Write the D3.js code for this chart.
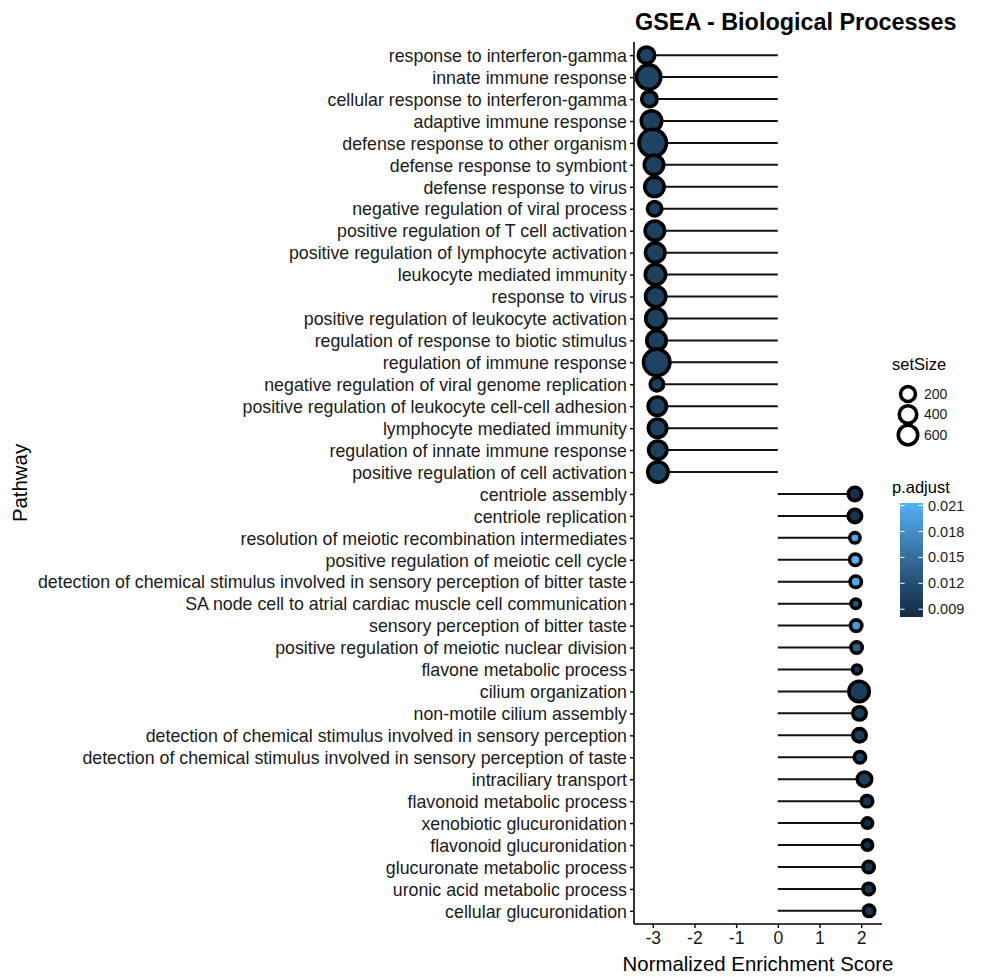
<!DOCTYPE html>
<html>
<head>
<meta charset="utf-8">
<script src="https://cdn.jsdelivr.net/npm/d3@7"></script>
<style>
  html, body { margin: 0; padding: 0; background: #ffffff; }
  svg { display: block; font-family: "Liberation Sans", Arial, Helvetica, sans-serif; }
</style>
</head>
<body>
<svg id="chart" width="982" height="977"></svg>
<script>
// ---------------- DATA ----------------
const categories = [
  "response to interferon-gamma",
  "innate immune response",
  "cellular response to interferon-gamma",
  "adaptive immune response",
  "defense response to other organism",
  "defense response to symbiont",
  "defense response to virus",
  "negative regulation of viral process",
  "positive regulation of T cell activation",
  "positive regulation of lymphocyte activation",
  "leukocyte mediated immunity",
  "response to virus",
  "positive regulation of leukocyte activation",
  "regulation of response to biotic stimulus",
  "regulation of immune response",
  "negative regulation of viral genome replication",
  "positive regulation of leukocyte cell-cell adhesion",
  "lymphocyte mediated immunity",
  "regulation of innate immune response",
  "positive regulation of cell activation",
  "centriole assembly",
  "centriole replication",
  "resolution of meiotic recombination intermediates",
  "positive regulation of meiotic cell cycle",
  "detection of chemical stimulus involved in sensory perception of bitter taste",
  "SA node cell to atrial cardiac muscle cell communication",
  "sensory perception of bitter taste",
  "positive regulation of meiotic nuclear division",
  "flavone metabolic process",
  "cilium organization",
  "non-motile cilium assembly",
  "detection of chemical stimulus involved in sensory perception",
  "detection of chemical stimulus involved in sensory perception of taste",
  "intraciliary transport",
  "flavonoid metabolic process",
  "xenobiotic glucuronidation",
  "flavonoid glucuronidation",
  "glucuronate metabolic process",
  "uronic acid metabolic process",
  "cellular glucuronidation"
];
const nes = [
  -3.15, -3.10, -3.08, -3.03, -3.00, -2.97, -2.96, -2.955, -2.95, -2.94,
  -2.935, -2.93, -2.925, -2.91, -2.905, -2.90, -2.89, -2.885, -2.88, -2.875,
  1.85, 1.85, 1.85, 1.86, 1.87, 1.87, 1.88, 1.89, 1.90, 1.95,
  1.96, 1.96, 1.97, 2.08, 2.14, 2.15, 2.15, 2.18, 2.18, 2.19
];
const setSize = [
  190, 590, 155, 363, 800, 314, 314, 124, 314, 320,
  360, 360, 365, 320, 727, 96, 269, 269, 265, 360,
  96, 96, 34, 51, 51, 21, 51, 51, 15, 360,
  96, 96, 51, 124, 51, 34, 34, 51, 51, 51
];
const pAdjust = [
  0.0105, 0.0108, 0.0105, 0.0104, 0.0107, 0.0104, 0.0104, 0.0103, 0.0104, 0.0104,
  0.0104, 0.0104, 0.0104, 0.0104, 0.0106, 0.0103, 0.0104, 0.0104, 0.0104, 0.0104,
  0.0088, 0.0090, 0.0200, 0.0213, 0.0205, 0.0125, 0.0190, 0.0135, 0.0095, 0.0100,
  0.0102, 0.0100, 0.0105, 0.0102, 0.0094, 0.0081, 0.0085, 0.0092, 0.0092, 0.0094
];
const xTicks = [-3, -2, -1, 0, 1, 2];
const sizeBreaks = [200, 400, 600];
const colorBreaks = [0.009, 0.012, 0.015, 0.018, 0.021];
const titleText = "GSEA - Biological Processes";
const xTitle = "Normalized Enrichment Score";
const yTitle = "Pathway";

// ---------------- LAYOUT ----------------
const panel = { left: 634, right: 882, top: 42, bottom: 924 };
const textColor = "#1a1a1a";
const strokeW = 3.6;

const svg = d3.select("#chart");

const x = d3.scaleLinear().domain([-3.45, 2.5]).range([panel.left, panel.right]);
const y = d3.scalePoint().domain(categories).range([panel.top, panel.bottom]).padding(0.6);
const size = d3.scaleSqrt().domain(d3.extent(setSize)).range([12.5, 31]); // outer diameter
const color = d3.scaleLinear().domain(d3.extent(pAdjust)).range(["#132B43", "#56B1F7"]).interpolate(d3.interpolateLab);

const rows = categories.map((c, i) => ({ name: c, nes: nes[i], size: setSize[i], p: pAdjust[i] }));

// Segments
svg.append("g").selectAll("line").data(rows).join("line")
  .attr("x1", x(0)).attr("x2", d => x(d.nes))
  .attr("y1", d => y(d.name)).attr("y2", d => y(d.name))
  .attr("stroke", "#111").attr("stroke-width", 2);

// Points
svg.append("g").selectAll("circle").data(rows).join("circle")
  .attr("cx", d => x(d.nes)).attr("cy", d => y(d.name))
  .attr("r", d => (size(d.size) - strokeW) / 2)
  .attr("fill", d => color(d.p))
  .attr("stroke", "#000").attr("stroke-width", strokeW);

// Y axis
const yAxis = d3.axisLeft(y).tickSize(4).tickSizeOuter(0).tickPadding(3);
const gy = svg.append("g").attr("transform", `translate(${panel.left},0)`).call(yAxis);
gy.select(".domain").attr("stroke", "#000").attr("stroke-width", 1.6)
  .attr("d", `M0,${panel.top}V${panel.bottom}`);
gy.selectAll(".tick line").attr("stroke", "#000").attr("stroke-width", 1.4);
gy.selectAll(".tick text").attr("fill", textColor).style("font-size", "17.8px")
  .attr("dy", "0.35em");

// X axis
const xAxis = d3.axisBottom(x).tickValues(xTicks).tickSize(4).tickSizeOuter(0).tickPadding(4)
  .tickFormat(d => d < 0 ? "-" + Math.abs(d) : String(d));
const gx = svg.append("g").attr("transform", `translate(0,${panel.bottom})`).call(xAxis);
gx.select(".domain").attr("stroke", "#000").attr("stroke-width", 1.6)
  .attr("d", `M${panel.left},0H${panel.right}`);
gx.selectAll(".tick line").attr("stroke", "#000").attr("stroke-width", 1.4);
gx.selectAll(".tick text").attr("fill", textColor).style("font-size", "17.6px");

// Titles
svg.append("text").attr("x", panel.left + 1).attr("y", 30)
  .attr("font-weight", "bold").attr("font-size", 23.4).attr("fill", "#000").text(titleText);
svg.append("text").attr("x", (panel.left + panel.right) / 2).attr("y", 971)
  .attr("text-anchor", "middle").attr("font-size", 20.4).attr("fill", "#000").text(xTitle);
svg.append("text").attr("transform", `translate(27,${(panel.top + panel.bottom) / 2}) rotate(-90)`)
  .attr("text-anchor", "middle").attr("font-size", 20.4).attr("fill", "#000").text(yTitle);

// Size legend
const lg = svg.append("g");
lg.append("text").attr("x", 892).attr("y", 370).attr("font-size", 16.5).attr("fill", "#000").text("setSize");
const legY = d3.scalePoint().domain(sizeBreaks).range([394, 435]);
const legSize = d3.scaleSqrt().domain([200, 600]).range([18.5, 23]);
lg.selectAll("circle").data(sizeBreaks).join("circle")
  .attr("cx", 908).attr("cy", d => legY(d))
  .attr("r", d => (legSize(d) - strokeW) / 2)
  .attr("fill", "none").attr("stroke", "#000").attr("stroke-width", strokeW);
lg.selectAll("text.lab").data(sizeBreaks).join("text").attr("class", "lab")
  .attr("x", 924).attr("y", d => legY(d)).attr("dy", "0.35em")
  .attr("font-size", 14).attr("fill", textColor).text(d => d);

// Colour legend
const cb = { x: 900, w: 23, top: 503, bottom: 617 };
lg.append("text").attr("x", 892).attr("y", 493).attr("font-size", 16.5).attr("fill", "#000").text("p.adjust");
const cy = d3.scaleLinear().domain(d3.extent(pAdjust)).range([cb.bottom, cb.top]);
const defs = svg.append("defs");
const grad = defs.append("linearGradient").attr("id", "pgrad")
  .attr("x1", 0).attr("y1", 1).attr("x2", 0).attr("y2", 0);
d3.range(0, 1.0001, 0.05).forEach(t => {
  const v = cy.domain()[0] + t * (cy.domain()[1] - cy.domain()[0]);
  grad.append("stop").attr("offset", t).attr("stop-color", color(v));
});
lg.append("rect").attr("x", cb.x).attr("y", cb.top).attr("width", cb.w).attr("height", cb.bottom - cb.top)
  .attr("fill", "url(#pgrad)");
const tickLen = cb.w / 5;
colorBreaks.forEach(b => {
  lg.append("line").attr("x1", cb.x).attr("x2", cb.x + tickLen).attr("y1", cy(b)).attr("y2", cy(b))
    .attr("stroke", "#fff").attr("stroke-width", 1);
  lg.append("line").attr("x1", cb.x + cb.w - tickLen).attr("x2", cb.x + cb.w).attr("y1", cy(b)).attr("y2", cy(b))
    .attr("stroke", "#fff").attr("stroke-width", 1);
});
lg.selectAll("text.clab").data(colorBreaks).join("text").attr("class", "clab")
  .attr("x", 928).attr("y", d => cy(d)).attr("dy", "0.35em")
  .attr("font-size", 14.5).attr("fill", textColor).text(d => d.toFixed(3));
</script>
</body>
</html>
